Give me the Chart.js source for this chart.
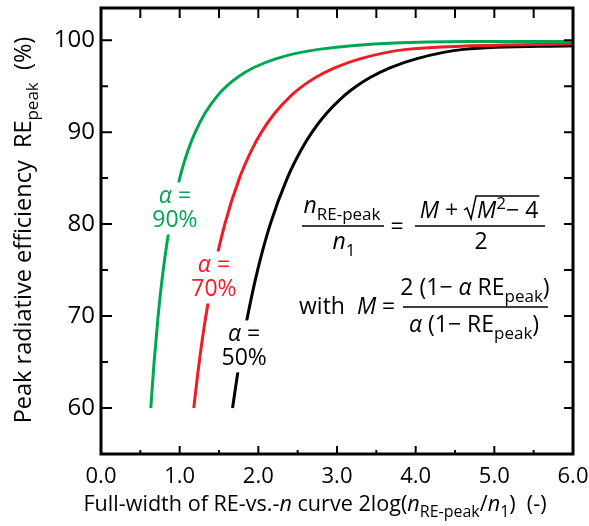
<!DOCTYPE html>
<html>
<head>
<meta charset="utf-8">
<script src="https://cdn.jsdelivr.net/npm/chart.js@4"></script>
<style>
html, body { margin: 0; background: #fff; }
#wrap { width: 589px; height: 526px; }
</style>
</head>
<body>
<div id="wrap"><canvas id="chart"></canvas></div>
<script>
// values: RE_peak (%) against full width 2log(n_RE-peak/n1)
const greenRE = [60, 65, 70, 75, 80, 85, 88, 90, 92, 94, 95, 96, 97, 98, 99, 99.85, 99.87];
const greenX = [0.633, 0.675, 0.726, 0.791, 0.878, 1.001, 1.106, 1.198, 1.318, 1.484, 1.597, 1.741, 1.937, 2.230, 2.767, 4.69, 6.0];
const redRE = [60, 65, 70, 75, 80, 85, 88, 90, 92, 94, 95, 96, 97, 98, 99, 99.6];
const redX = [1.179, 1.249, 1.333, 1.438, 1.574, 1.760, 1.912, 2.040, 2.203, 2.420, 2.562, 2.738, 2.970, 3.303, 3.886, 6.0];
const blackRE = [60, 65, 70, 75, 80, 85, 88, 90, 92, 94, 95, 96, 97, 98, 99, 99.4];
const blackX = [1.672, 1.760, 1.864, 1.991, 2.152, 2.368, 2.540, 2.683, 2.862, 3.096, 3.246, 3.432, 3.673, 4.017, 4.611, 6.0];

const seriesLabels = ['90%', '70%', '50%'];
const seriesColors = ['#00a651', '#ee1c25', '#000000'];
// where each "α = xx%" label sits, in data units
const labelAt = [{ x: 0.94, y: 81.7 }, { x: 1.436, y: 74.2 }, { x: 1.82, y: 66.7 }];

const FONT = '"Open Sans", "DejaVu Sans", sans-serif';

function series(xs, ys, color) {
return {
data: xs.map(function(x, i) { return { x: x, y: ys[i] }; }),
showLine: true, borderColor: color, borderWidth: 3, pointRadius: 0,
cubicInterpolationMode: 'monotone', fill: false
};
}

function segFont(s, size) {
const sz = (s.sub || s.sup) ? Math.round(size * 0.72) : size;
return (s.it ? 'italic ' : '') + sz + 'px ' + FONT;
}

function richWidth(ctx, segs, size) {
let w = 0;
segs.forEach(function(s) { ctx.font = segFont(s, size); w += ctx.measureText(s.t).width; });
return w;
}

function drawRich(ctx, segs, x, y, size, align) {
const w = richWidth(ctx, segs, size);
let cx = align === 'center' ? x - w / 2 : x;
ctx.textAlign = 'left';
ctx.textBaseline = 'alphabetic';
segs.forEach(function(s) {
ctx.font = segFont(s, size);
let dy = 0;
if (s.sub) dy = size * 0.3;
if (s.sup) dy = -size * 0.38;
ctx.fillText(s.t, cx, y + dy);
cx += ctx.measureText(s.t).width;
});
return w;
}

const decorPlugin = {
id: 'decor',
afterDatasetsDraw: function(chart) {
const ctx = chart.ctx;
const a = chart.chartArea;
const xs = chart.scales.x, ys = chart.scales.y;
ctx.save();

// series labels with white boxes over the curves
labelAt.forEach(function(p, i) {
const cx = xs.getPixelForValue(p.x), cy = ys.getPixelForValue(p.y);
ctx.fillStyle = '#fff';
ctx.fillRect(cx - 23, cy - 26, 46, 52);
ctx.fillStyle = seriesColors[i];
drawRich(ctx, [{ t: 'α', it: 1 }, { t: ' =' }], cx, cy - 5, 23, 'center');
drawRich(ctx, [{ t: seriesLabels[i] }], cx, cy + 19, 23, 'center');
});

// frame
ctx.strokeStyle = '#000';
ctx.lineWidth = 3;
ctx.strokeRect(a.left, a.top, a.right - a.left, a.bottom - a.top);

// inward ticks on all four sides
ctx.lineWidth = 2;
ctx.beginPath();
xs.ticks.forEach(function(t) {
const px = xs.getPixelForValue(t.value);
const major = Number.isInteger(t.value);
ctx.moveTo(px, a.bottom); ctx.lineTo(px, a.bottom - (major ? 8 : 4));
ctx.moveTo(px, a.top); ctx.lineTo(px, a.top + 10);
});
ys.ticks.forEach(function(t) {
const py = ys.getPixelForValue(t.value);
const major = t.value % 10 === 0;
ctx.moveTo(a.left, py); ctx.lineTo(a.left + (major ? 11 : 7), py);
ctx.moveTo(a.right, py); ctx.lineTo(a.right - 9, py);
});
ctx.stroke();

// axis titles
ctx.fillStyle = '#000';
drawRich(ctx, [
{ t: 'Full-width of RE-vs.-' }, { t: 'n', it: 1 }, { t: ' curve 2log(' }, { t: 'n', it: 1 },
{ t: 'RE-peak', sub: 1 }, { t: '/' }, { t: 'n', it: 1 }, { t: '1', sub: 1 }, { t: ')  (-)' }
], 315, 511, 21.6, 'center');

ctx.save();
ctx.translate(31, 230);
ctx.rotate(-Math.PI / 2);
drawRich(ctx, [{ t: 'Peak radiative efficiency  RE' }, { t: 'peak', sub: 1 }, { t: '  (%)' }], 0, 0, 23.5, 'center');
ctx.restore();

// formula: n_RE-peak / n1 = (M + sqrt(M^2 - 4)) / 2
const fs = 23;
drawRich(ctx, [{ t: 'n', it: 1 }, { t: 'RE-peak', sub: 1 }], 342, 213, fs, 'center');
drawRich(ctx, [{ t: 'n', it: 1 }, { t: '1', sub: 1 }], 344, 249, fs, 'center');
drawRich(ctx, [{ t: '=' }], 397, 234, fs, 'center');
ctx.lineWidth = 1.5;
ctx.beginPath();
ctx.moveTo(302, 226); ctx.lineTo(384, 226);
ctx.moveTo(415, 226); ctx.lineTo(545, 226);
ctx.stroke();
const segA = [{ t: 'M', it: 1 }, { t: ' + ' }];
const segB = [{ t: 'M', it: 1 }, { t: '2', sup: 1 }, { t: '− 4' }];
const wA = richWidth(ctx, segA, fs), wB = richWidth(ctx, segB, fs);
const rad = 13;
let x0 = 479 - (wA + rad + wB) / 2;
const by = 218;
drawRich(ctx, segA, x0, by, fs, 'left');
const rx = x0 + wA;
ctx.beginPath();
ctx.moveTo(rx, by - 8); ctx.lineTo(rx + 3, by - 10); ctx.lineTo(rx + 7, by + 1);
ctx.lineTo(rx + 12, by - 22); ctx.lineTo(rx + rad + wB + 1, by - 22);
ctx.stroke();
drawRich(ctx, segB, rx + rad, by, fs, 'left');
drawRich(ctx, [{ t: '2' }], 481, 249, fs, 'center');

// with M = 2(1 - a RE_peak) / a(1 - RE_peak)
drawRich(ctx, [{ t: 'with  ' }, { t: 'M', it: 1 }, { t: ' =' }], 299, 314, fs, 'left');
drawRich(ctx, [{ t: '2 (1− ' }, { t: 'α', it: 1 }, { t: ' RE' }, { t: 'peak', sub: 1 }, { t: ')' }], 475, 295, fs, 'center');
drawRich(ctx, [{ t: 'α', it: 1 }, { t: ' (1− RE' }, { t: 'peak', sub: 1 }, { t: ')' }], 474, 332, fs, 'center');
ctx.beginPath();
ctx.moveTo(403, 307); ctx.lineTo(548, 307);
ctx.stroke();

ctx.restore();
}
};

new Chart(document.getElementById('chart'), {
type: 'scatter',
data: { datasets: [
series(greenX, greenRE, seriesColors[0]),
series(redX, redRE, seriesColors[1]),
series(blackX, blackRE, seriesColors[2])
] },
options: {
responsive: true, maintainAspectRatio: false, animation: false,
layout: { padding: { top: 8, right: 16, bottom: 0, left: 0 } },
plugins: { legend: { display: false }, tooltip: { enabled: false } },
scales: {
x: {
type: 'linear', min: 0, max: 6,
grid: { display: false, drawTicks: false }, border: { display: false },
ticks: { stepSize: 0.5, autoSkip: false, maxRotation: 0, includeBounds: false, padding: 10, color: '#000', font: { family: 'Open Sans', size: 22 },
callback: function(v) { return Number.isInteger(v) ? v.toFixed(1) : ''; } },
afterFit: function(s) { s.height = 72; s.paddingLeft = 0; s.paddingRight = 0; }
},
y: {
type: 'linear', min: 55, max: 103.5,
grid: { display: false, drawTicks: false }, border: { display: false },
ticks: { stepSize: 5, autoSkip: false, includeBounds: false, padding: 6, color: '#000', font: { family: 'Open Sans', size: 24 },
callback: function(v) { return v % 10 === 0 ? String(v) : ''; } },
afterFit: function(s) { s.width = 101; s.paddingTop = 0; s.paddingBottom = 0; }
}
}
},
plugins: [decorPlugin]
});
</script>
</body>
</html>
